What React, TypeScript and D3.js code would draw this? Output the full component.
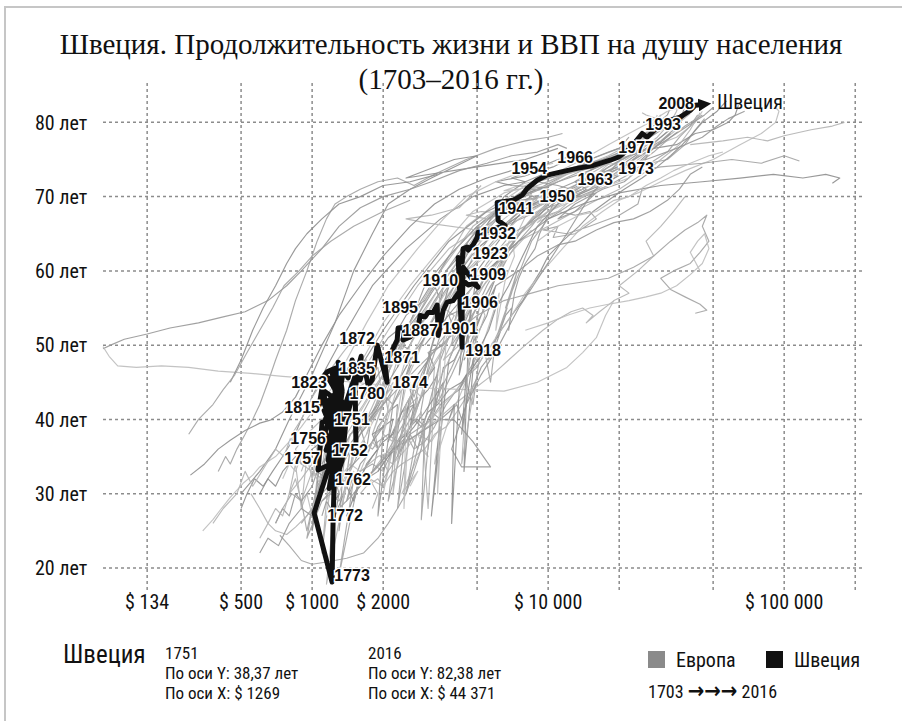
import React from "react";
import * as d3 from "d3";

type Pt = [number, number]; // [ВВП на душу, продолжительность жизни]

// --- Европа: траектории стран (серые) ---
const norway: Pt[] = [[1300,38],[1350,42],[1250,36],[1400,43],[1450,45],[1500,44],[1600,47],[1700,48],[1750,46],[1850,49],[2000,50],[2100,51],[2300,52],[2500,54],[2700,55],[3000,56],[3300,58],[3500,56],[3700,60],[4200,62],[4600,64],[5100,66],[5000,64],[6500,70],[8000,72],[9500,73],[11500,73.5],[14000,74],[17000,75],[22000,76],[28000,76.5],[35000,77],[42000,78.5],[50000,79],[58000,80],[62000,81],[64000,82.3]];
const denmark: Pt[] = [[1800,33],[1900,36],[1850,38],[2000,39],[2100,41],[2050,43],[2200,42],[2400,44],[2600,45],[2700,43],[2900,46],[3100,48],[3400,50],[3800,52],[4300,54],[4600,56],[5200,58],[5500,60],[6000,61],[6800,62],[7500,64],[8500,66],[9500,68],[11000,70.5],[14000,72],[18000,72.5],[22000,73.5],[27000,74.5],[32000,75],[38000,77],[42000,79],[46000,80.5]];
const finland: Pt[] = [[800,30],[850,34],[900,28],[950,35],[1000,32],[1050,36],[1100,38],[1000,26],[1150,37],[1200,40],[1150,33],[1250,42],[1100,22],[1300,40],[1400,42],[1500,44],[1700,45],[1900,47],[2000,42],[1800,38],[2300,48],[2600,50],[2900,53],[3200,55],[3500,57],[3300,52],[4000,58],[4500,60],[5000,63],[6500,66],[8000,68],[10500,69.5],[14000,71],[18000,73],[22000,74.5],[26000,76],[30000,78],[36000,80],[40000,81.2]];
const britain: Pt[] = [[2200,36],[2400,38],[2300,35],[2600,39],[2800,40],[3000,39],[3200,41],[3500,40],[3800,41],[4100,42],[4300,40],[4600,43],[4900,45],[5200,47],[5500,48],[5800,49],[6000,50],[6300,52],[6100,51],[6600,54],[7000,55],[6800,52],[7200,57],[7500,59],[8000,61],[8800,63],[9200,65],[10500,69],[11500,70],[13000,70.5],[15000,71.5],[18000,72.5],[21000,74],[25000,76],[30000,77.5],[34000,79],[38000,81]];
const netherlands: Pt[] = [[2600,31],[2800,33],[2400,30],[2900,36],[3100,35],[2800,38],[3200,37],[3500,39],[3300,34],[3800,40],[4200,43],[4600,46],[5000,48],[5400,51],[5800,54],[6200,57],[6000,52],[6600,59],[7200,62],[7000,65],[6200,60],[8200,68],[10000,72],[12500,73.5],[15000,73.8],[19000,74.5],[24000,76],[29000,77],[35000,78],[42000,80],[45000,81.5]];
const france: Pt[] = [[1500,29],[1600,32],[1400,27],[1700,34],[1900,36],[1800,38],[2000,39],[2200,40],[2100,37],[2400,41],[2700,42],[2600,39],[2900,43],[3100,44],[3400,46],[3300,41],[3600,47],[4000,48],[4300,50],[4200,46],[4600,52],[4400,33],[5000,53],[5600,56],[6000,58],[5500,54],[4400,48],[6500,62],[8000,66],[9500,68],[11500,70],[14000,71],[17000,73],[21000,74.5],[26000,76.5],[30000,78],[34000,79.5],[37000,81],[38000,82.3]];
const germany: Pt[] = [[1300,33],[1400,35],[1500,36],[1450,33],[1650,37],[1800,36],[1900,37],[2100,38],[2300,37],[2500,38],[2700,36],[3000,37],[3300,39],[3700,42],[4100,44],[4500,46],[4900,48],[5200,50],[4800,42],[4500,45],[5100,55],[5700,58],[6300,60],[6800,62],[5500,57],[3900,50],[4500,63],[6500,66],[9000,68],[11000,69],[13500,70],[16000,71],[19000,72.5],[23000,74],[28000,76],[33000,78],[38000,79.5],[45000,81]];
const italy: Pt[] = [[1800,28],[1900,30],[1750,32],[2000,31],[2100,33],[1950,35],[2200,34],[2300,36],[2200,38],[2400,40],[2600,42],[2800,43],[2700,40],[3000,45],[3300,47],[3100,36],[3500,49],[3700,52],[4000,54],[3600,55],[3200,52],[4500,60],[6000,64],[7500,67],[9500,69],[12000,70.5],[15000,72],[19000,74],[24000,76],[29000,78],[33000,80],[35000,81.5],[36000,82.8]];
const spain: Pt[] = [[1100,27],[1150,29],[1200,28],[1300,30],[1250,32],[1400,31],[1500,33],[1400,29],[1600,34],[1700,35],[1800,37],[1900,39],[2100,41],[2300,42],[2200,34],[2500,46],[2700,49],[2400,50],[2300,47],[2600,53],[3000,58],[3800,62],[5000,66],[6500,69],[9000,71],[12000,73],[15000,75],[18000,76],[22000,77],[27000,79],[32000,81],[34000,83]];
const portugal: Pt[] = [[1000,32],[1050,34],[1150,33],[1200,35],[1300,34],[1250,37],[1400,36],[1450,38],[1600,39],[1700,41],[1800,40],[2000,43],[2300,45],[2600,48],[2900,51],[3300,54],[3800,57],[4500,60],[5500,62],[7000,64],[9000,67],[11000,69],[13000,71],[16000,73],[19000,75],[22000,76.5],[25000,78],[28000,80],[29000,81]];
const switzerland: Pt[] = [[2100,35],[2300,37],[2500,38],[2700,40],[2900,39],[3100,41],[3400,42],[3800,44],[4300,45],[4800,47],[5300,49],[5800,50],[6300,52],[7000,54],[7800,56],[8500,58],[9300,60],[10000,62],[11500,64],[13500,66],[15500,68],[18000,69.5],[21000,71],[25000,72.5],[29000,74],[33000,75.5],[37000,77],[41000,78.5],[45000,80],[52000,81.5],[57000,82.9]];
const belgium: Pt[] = [[1900,33],[2100,35],[2300,37],[2200,34],[2600,38],[2900,39],[3200,40],[3500,42],[3800,43],[4200,44],[4600,46],[5000,47],[5400,49],[5700,45],[6000,51],[6400,53],[6700,55],[5600,48],[7000,57],[7400,60],[6600,55],[8500,64],[10000,67],[12500,69],[15000,70.5],[18000,71.5],[22000,73],[27000,74.5],[32000,76],[36000,78],[40000,79.5],[43000,81]];
const austria: Pt[] = [[1600,30],[1700,31],[1900,32],[2000,31],[2200,33],[2400,34],[2700,35],[3000,36],[3300,38],[3700,39],[4100,41],[4500,43],[4900,45],[4300,34],[4600,48],[5000,51],[5400,54],[5100,56],[4200,50],[3600,48],[5500,60],[7500,64],[10000,66],[13000,68],[16000,69.5],[20000,71],[25000,73],[30000,75],[36000,77],[40000,79],[44000,81.3]];
const ireland: Pt[] = [[1300,35],[1400,37],[1350,33],[1300,25],[1450,36],[1600,38],[1800,40],[2100,43],[2400,46],[2700,49],[3000,51],[3300,54],[3600,57],[4000,59],[4500,62],[5000,65],[6000,67],[7500,69],[9000,70],[11000,71],[13000,72],[16000,73],[20000,74],[26000,75],[35000,76.5],[45000,78],[52000,79.5],[58000,80.5],[68000,81.5]];
const poland: Pt[] = [[900,28],[950,30],[1000,27],[1100,31],[1200,33],[1150,29],[1300,32],[1450,34],[1600,33],[1800,37],[2000,40],[2200,42],[2400,44],[2000,30],[2600,47],[2900,50],[2500,45],[3500,56],[4200,60],[5200,64],[6500,67],[7800,69],[9000,70],[10000,70.5],[9500,71],[8000,70.8],[10000,71.5],[12000,73],[15000,74],[19000,75.5],[24000,77.5]];
const hungary: Pt[] = [[1200,28],[1300,30],[1250,27],[1400,31],[1500,29],[1650,33],[1800,35],[2000,37],[2200,38],[2400,41],[2600,43],[2300,36],[2800,46],[3100,48],[3300,51],[2900,45],[3800,58],[5000,63],[6500,66],[8000,68],[10000,69.5],[11500,69.8],[12500,69.5],[11000,69.2],[12500,70.5],[15000,72],[18000,74],[22000,75.5],[25000,76]];
const russia: Pt[] = [[900,26],[1000,28],[950,24],[1100,29],[1200,30],[1300,29],[1400,31],[1500,32],[1300,19],[1600,33],[1800,34],[2000,33],[2200,36],[2600,40],[3000,44],[2500,30],[3500,48],[4200,55],[5500,61],[7000,65],[9000,67],[11000,68],[13000,67.5],[15000,68],[16000,67],[13000,65],[10500,64.5],[11000,66],[9500,65.5],[12000,65],[15000,66],[20000,67.5],[24000,69],[25000,71]];
const ukraine: Pt[] = [[800,30],[850,32],[900,29],[1000,33],[1100,32],[1200,35],[1300,34],[1150,17.8],[1500,36],[1700,40],[2000,45],[2600,52],[3500,60],[4500,66],[6000,69],[7500,70],[8500,70.2],[9000,69.5],[7500,68.5],[5500,67],[4500,67.5],[5200,68],[6500,67.8],[8000,68.5],[8500,70.5],[8000,71.5]];
const romania: Pt[] = [[700,26],[750,28],[800,27],[850,30],[900,29],[1000,31],[1050,33],[1150,32],[1250,34],[1350,36],[1450,38],[1600,39],[1700,36],[1800,41],[2000,44],[2300,50],[2900,56],[3800,62],[5000,66],[6500,68.5],[8000,69.5],[9000,69.8],[7500,69.5],[7000,69.2],[8500,70.5],[11000,72],[15000,73.5],[21000,75.5]];
const bulgaria: Pt[] = [[750,32],[800,34],[850,33],[900,35],[1000,37],[1050,36],[1150,39],[1250,41],[1350,43],[1300,38],[1500,46],[1700,49],[2000,53],[2600,58],[3500,63],[4800,68],[6500,70.5],[8000,71.2],[9000,71.5],[7500,71],[6500,70.8],[8000,71.8],[11000,72.8],[15000,73.8],[18000,75]];
const serbia: Pt[] = [[600,30],[650,32],[700,31],[750,33],[850,35],[900,34],[1000,36],[1100,37],[1000,25],[1200,39],[1400,43],[1600,47],[2000,52],[2700,58],[3800,64],[5500,68],[7500,70],[9000,71],[10000,71.2],[7000,71.5],[6000,72],[8000,72.8],[10500,74],[13000,75.5]];
const albania: Pt[] = [[400,33],[430,35],[450,34],[480,36],[520,38],[560,40],[600,42],[650,45],[700,48],[780,52],[850,56],[950,60],[1050,64],[1150,67],[1250,69],[1400,70],[1600,71],[1900,72],[2300,72.5],[2700,71.5],[3300,73],[4500,75],[6000,76.5],[8000,77.5],[10000,78],[11500,78.5]];
const greece: Pt[] = [[900,33],[950,35],[1000,34],[1100,36],[1150,38],[1250,37],[1350,39],[1500,40],[1650,42],[1800,44],[2000,46],[2200,48],[1700,38],[2000,45],[2600,53],[3500,60],[4800,66],[6500,69],[9000,71.5],[12000,73],[15000,74.5],[18000,75.5],[22000,77],[27000,78.5],[30000,79.5],[32000,80],[26000,81],[25000,81.3]];
const iceland: Pt[] = [[1100,34],[1200,36],[1050,30],[1250,38],[1150,32],[1350,39],[1500,41],[1650,43],[1900,46],[2200,49],[2500,52],[2800,54],[3200,57],[3700,60],[4300,63],[5200,66],[6500,69],[8000,71],[10000,73],[13000,74],[17000,75],[22000,76.5],[27000,78],[32000,79.5],[37000,80.5],[42000,82.5]];
const luxembourg: Pt[] = [[2200,34],[2500,36],[2800,38],[3200,40],[3600,42],[4100,44],[4600,46],[5200,48],[6000,51],[7000,54],[8000,57],[9500,60],[11500,63],[14000,66],[17000,68],[20000,69.5],[24000,70.5],[30000,72],[38000,73.5],[50000,75],[65000,77],[80000,78.5],[92000,80],[95000,81.5],[92000,82]];
const macedonia: Pt[] = [[500,28],[530,30],[570,32],[620,31],[680,33],[750,35],[820,37],[900,40],[1000,43],[1150,47],[1400,52],[1800,58],[2500,63],[3500,67],[4800,70],[6500,71.5],[8000,72],[7000,72.5],[8500,73.5],[11000,75],[13000,75.5]];
const belarus: Pt[] = [[700,26],[750,28],[820,30],[900,29],[950,25],[1050,31],[1200,34],[1400,37],[1650,41],[2000,46],[2600,52],[3500,58],[4800,64],[6500,69],[8500,71],[10000,70.8],[9000,69],[7500,68],[6500,68.5],[8000,68.8],[11000,69.5],[15000,71],[17000,72.5],[18000,73.5]];
const moldova: Pt[] = [[600,24],[650,26],[700,28],[750,27],[800,30],[900,32],[1000,34],[1100,37],[1300,41],[1600,46],[2100,52],[2800,58],[3800,63],[5000,65.5],[6000,66],[5000,65.5],[3000,66.5],[2500,67],[3200,67.5],[4200,68.5],[5200,71.5]];
const estonia: Pt[] = [[1200,32],[1300,34],[1400,36],[1550,38],[1700,40],[1900,42],[2100,45],[2400,48],[2800,52],[3300,56],[4000,60],[5000,64],[6500,68],[8500,70],[11000,70.5],[14000,70],[16000,70.5],[13000,68],[11000,67],[13000,69],[17000,71],[21000,72],[25000,74],[28000,77.5]];
const latvia: Pt[] = [[1300,30],[1400,33],[1350,29],[1500,35],[1700,38],[1900,41],[2200,45],[2000,38],[2600,50],[3200,55],[4000,60],[5200,65],[7000,69],[9500,70],[12000,70.5],[13000,70],[11000,68],[9000,66.5],[10000,68],[14000,70],[18000,71.5],[22000,72.5],[24000,74.5]];
const czechia: Pt[] = [[1500,30],[1700,32],[1900,33],[2100,35],[2400,37],[2700,39],[3000,41],[3300,43],[3600,45],[3200,27],[3800,48],[4300,52],[4700,55],[4500,50],[5000,60],[6500,65],[8000,68.5],[10000,70],[12000,70.2],[13000,70],[14500,71],[13000,72],[15000,73.5],[20000,75.5],[26000,78],[29000,79]];
const slovakia: Pt[] = [[1300,28],[1500,30],[1700,32],[1950,34],[2200,37],[2500,40],[2300,28],[2800,44],[3200,49],[3000,45],[4000,57],[5500,63],[7000,67],[9000,70],[10000,70.5],[11000,70.8],[9500,71],[11000,72],[15000,74],[22000,75.5],[26000,77]];
const slovenia: Pt[] = [[1600,31],[1800,33],[2000,35],[2300,37],[2600,39],[2900,41],[3100,28],[3300,44],[3800,48],[4500,54],[5800,60],[7500,65],[10000,68],[13000,70],[16000,71.5],[18000,72.5],[15000,73],[18000,74.5],[24000,77],[28000,79.5],[30000,81]];
const croatia: Pt[] = [[1100,29],[1250,31],[1400,33],[1600,35],[1800,37],[2000,39],[1900,27],[2200,42],[2600,47],[3200,53],[4200,59],[5500,64],[7500,68],[10000,70],[12500,71],[11000,71.5],[9000,72],[11500,73],[15000,75],[20000,76.5],[22000,78]];
const malta: Pt[] = [[1200,35],[1400,38],[1600,41],[1900,45],[2300,49],[2800,53],[3500,58],[4500,63],[5500,67],[6500,69.5],[8000,71.5],[10500,73],[14000,75],[18000,77],[22000,78.5],[27000,80],[32000,81.5],[36000,82]];
const bosnia: Pt[] = [[500,30],[600,33],[700,36],[800,40],[1000,46],[1250,53],[1500,60],[1800,65],[2100,69],[2600,71],[3200,72.5],[4000,74],[5000,75.5],[4000,75],[2500,72.5],[5000,74],[8000,75],[11000,76.5]];
const kazakhstan: Pt[] = [[1500,38],[2000,42],[2800,47],[3800,51],[5000,54],[6500,56],[8500,57],[11000,58],[14000,58.5],[18000,59],[23000,60.5],[28000,62],[33000,64],[38000,65.5],[43000,66.5],[47000,67.5],[45000,66],[48000,64],[44000,62.5],[40000,61],[34000,60],[30000,59],[33000,57.5],[38000,56.5],[44000,55.5],[47000,54.7],[42000,54.3]];
const turkey: Pt[] = [[1200,30],[1400,32],[1600,33],[1900,35],[2300,36],[2800,38],[3400,40],[4000,42],[4800,44],[5800,46],[6800,48],[8000,50],[9500,52],[11000,53.5],[12500,54.5],[14000,55],[15500,54],[14500,53],[16500,54.5],[19000,56],[22000,57],[20000,58],[24000,60],[28000,62],[26000,64],[30000,66],[34000,68],[38000,70]];
const montenegro: Pt[] = [[130,49.5],[140,50],[160,50.8],[200,51.5],[250,52.3],[330,53],[420,53.8],[520,54.5],[650,56],[780,58],[900,60],[1100,63],[1300,66],[1600,68.5],[2000,70],[2600,71],[3200,72],[4200,73.5],[5500,74.5],[7000,75.5],[9000,76],[11000,77],[12000,76.5]];
const kosovo: Pt[] = [[130,49.8],[138,48.5],[150,47.2],[180,47],[230,47.2],[300,47],[400,46.5],[550,46.2],[750,45.8],[1000,45.5],[1500,45],[2200,44.5],[3200,44.2],[4500,44],[6500,43.8],[9000,45],[12000,47],[14000,49],[16000,51],[17500,54],[19000,56]];
const liechtenstein: Pt[] = [[3000,50],[4000,55],[5500,60],[7500,64],[10000,67],[14000,69],[20000,70.5],[30000,71.5],[45000,72],[65000,72.5],[90000,73],[120000,72.5],[150000,73],[172000,72.5],[160000,71.8]];
const monaco: Pt[] = [[20000,73],[30000,74],[45000,74.5],[60000,75],[80000,74.5],[100000,75.5],[116000,74.8]];
const andorra: Pt[] = [[40000,77],[55000,77.5],[70000,78],[85000,77.5],[100000,78.2],[130000,79],[160000,79.5],[180000,80]];
const cyprus: Pt[] = [[1500,30],[1800,33],[2200,36],[2800,38],[3500,40],[4000,39.9],[4800,37],[5700,33.6],[4300,33.6],[3900,36],[4500,42],[5200,46],[6200,50],[7500,55],[9500,60],[12000,65],[15000,70],[19000,74],[23000,77],[27000,79],[30000,80.5]];
const lithuania: Pt[] = [[344,25],[380,26.5],[408,27.8],[450,29.5],[510,31.4],[560,32.5],[600,33.6],[700,35],[800,37],[900,39],[1000,41],[1200,44],[1400,48],[1700,53],[2100,58],[2800,63],[3600,67],[4500,70],[6000,72],[8000,73.5],[10500,74.5]];
const georgia: Pt[] = [[305,32.5],[350,34],[400,36],[450,37.2],[520,38.5],[600,39.5],[665,39.9],[750,41],[850,43],[950,46],[1100,50],[1300,54],[1600,58],[2000,62],[2600,66],[3300,69],[4200,71],[5500,72.5],[7000,73.5]];
const armenia: Pt[] = [[730,24.4],[800,23],[900,21],[1000,20.5],[1150,20.8],[1400,21.3],[1650,22],[1900,24],[2100,26],[2300,28],[2500,30],[2700,33],[2900,36],[3000,39],[3200,41],[3500,43],[3900,46],[4300,49],[4800,52]];
const azerbaijan: Pt[] = [[550,30],[600,28],[650,26],[700,25],[780,24.5],[850,25.5],[950,27],[1050,29],[1100,31],[1000,33],[900,34],[850,36],[950,38],[1100,40],[1300,42]];
const sanMarino: Pt[] = [[2500,40],[2700,42],[2600,44],[3000,45],[3300,47],[3100,49],[3600,50],[4000,52],[3800,54],[4400,55],[4900,57],[5400,59],[6000,61],[6800,63],[7600,65],[8500,67],[9800,69],[11500,70.5],[13500,71.5],[16000,72.5],[19000,73.5],[23000,75],[28000,76.5],[33000,78],[39000,79.5],[46000,81],[50000,82]];
const scotland: Pt[] = [[2400,40],[2500,42],[2450,28],[2600,43],[2800,45],[3000,44],[3200,47],[3500,49],[3400,30],[3700,51],[4000,53],[4400,56],[5000,59],[6000,62],[7500,65],[9000,68],[11000,70],[14000,71],[18000,72.5],[23000,74.5],[29000,77],[35000,79]];
const wales: Pt[] = [[3800,40],[4000,42],[3900,26],[4200,44],[4500,46],[4300,38],[4800,48],[5200,50],[5600,52],[6000,55],[6800,58],[7800,62],[9000,66],[11000,69],[14000,70.5],[18000,72],[23000,74],[28000,76.5],[33000,78.5]];
const faroe: Pt[] = [[2000,32],[2200,34],[2100,29],[2400,36],[2600,38],[2800,36],[3000,39],[2900,26.5],[3200,41],[3500,44],[3900,47],[4300,50],[4800,54],[5500,58],[6500,62],[8000,66],[10000,69],[13000,71.5],[17000,73.5],[22000,75.5]];
const gibraltar: Pt[] = [[1700,35],[1800,37],[1900,36],[2000,38],[2200,37],[2300,40],[2200,30],[2500,42],[2700,44],[2900,43],[3100,46],[3400,48],[3800,51],[4300,54],[5000,57],[6000,60],[7200,63],[8500,65.5]];
const crimea: Pt[] = [[6000,58],[7500,60],[9000,62],[11000,63.5],[13000,64],[16000,65.5],[19000,66.5],[23000,67],[27000,68],[32000,69.5],[36000,71],[40000,73],[45000,74]];
const jersey: Pt[] = [[9000,64],[11000,66],[13500,67.5],[16000,68],[19000,69.5],[22000,70],[26000,71.5],[30000,72.5],[34000,73.5],[40000,74.5],[48000,75.5],[55000,76]];
const transnistria: Pt[] = [[450,45],[500,48],[560,52],[620,55],[700,58],[780,61],[850,63],[950,65],[1100,67],[1300,69],[1600,70],[2000,71.5],[2600,72],[3400,73]];
const abkhazia: Pt[] = [[300,38],[330,40],[380,42],[420,44],[470,46],[530,49],[600,52],[680,55],[760,58],[880,60],[1000,62],[1200,64],[1500,66],[2000,68],[2600,69.5]];
const lapland: Pt[] = [[380,26],[420,28],[480,30],[520,33],[560,31],[640,34],[700,36],[760,35],[820,38],[900,40],[1000,43],[1150,46],[1350,49],[1600,52]];
const karelia: Pt[] = [[600,22],[650,24],[720,23],[800,26],[900,28],[1000,27],[1100,30],[1250,32],[1400,35],[1600,38],[1850,41],[2100,44]];
const dagestan: Pt[] = [[8000,52],[10000,53],[12000,54],[15000,55],[18000,55.5],[22000,56],[26000,56.5],[30000,57],[35000,58],[40000,59.5],[45000,61],[48000,63],[46000,65],[43000,64],[40000,62.5],[44000,60]];

const europe: Pt[][] = [
  norway, denmark, finland, britain, netherlands, france, germany, italy, spain, portugal,
  switzerland, belgium, austria, ireland, poland, hungary, russia, ukraine, romania, bulgaria,
  serbia, albania, greece, iceland, luxembourg, macedonia, belarus, moldova, estonia, latvia,
  czechia, slovakia, slovenia, croatia, malta, bosnia, kazakhstan, turkey, montenegro, kosovo,
  liechtenstein, monaco, andorra, cyprus, lithuania, georgia, armenia, azerbaijan,
  sanMarino, scotland, wales, faroe, gibraltar, crimea, jersey, transnistria, abkhazia, lapland, karelia, dagestan,
];

// --- Швеция 1703–2016 ---
const sweden: Pt[] = [[1227,36.5],[1146,35.85],[1327,42.58],[1215,46.35],[1366,36.12],[1180,40.56],[1301,33.43],[1113,43.93],[1276,42.58],[1192,37.2],[1353,46.35],[1169,34.51],[1314,31.82],[1239,42.85],[1135,39.89],
  [1289,39.9],[1192,34.9],[1327,38.4],[1158,42.3],[1301,44.0],[1135,38.3],[1264,34.2],[1366,41.9],[1169,45.6],[1340,43.7],[1204,33.2],[1289,36.5],[1124,41.2],[1314,38.6],
  [1269,38.37],[1314,34.8],[1252,37.2],[1353,40.6],[1102,39.6],[1081,36.3],[1060,33.2],[1239,34.2],[1180,30.7],[1252,32.1],[1366,37.2],[1204,39.9],[1289,35.2],[1158,32.9],[1020,27.4],[1215,18.1],[1227,26.4],[1239,31.1],[1340,34.5],[1393,39.9],[1521,44.6],[1536,35.2],[1521,43.3],[1551,46.6],[1380,41.9],[1264,36.5],[1192,39.9],[1102,42.9],[1071,41.9],[1124,45.9],[1158,46.4],[1252,46.9],[1340,43.9],[1289,47.7],[1421,45.6],[1477,48.0],[1536,46.0],[1613,48.5],[1597,45.3],[1662,47.2],[1727,44.6],[1796,45.3],[1886,50.0],[2079,45.0],[2038,47.3],[2183,49.3],[2293,50.7],[2312,52.3],[2478,52.4],[2430,50.7],[2602,51.1],[2813,52.4],[2870,54.0],[3012,53.8],[3100,54.4],[3256,54.4],[3387,55.4],[3420,51.3],[3591,54.7],[3733,55.8],[3958,56.0],[4155,57.0],[4321,56.0],[4363,58.7],[4581,58.1],[4810,58.3],[5051,57.8],[4363,60.5],[4321,56.0],[4321,49.7],[4155,61.8],[4321,61.2],[4363,63.0],[4538,63.2],[4581,62.8],[4810,63.5],[5002,64.5],[5051,65.2],[5252,65.2],[6573,66.1],[6140,66.8],[6080,69.2],[7107,69.5],[7759,70.2],[8147,71.1],[8981,72.2],[9903,72.9],[11240,73.3],[13270,73.8],[15510,74.2],[18310,74.9],[19800,75.3],[20587,75.7],[22260,76.5],[25020,78.5],[26273,78.0],[28960,79.3],[32880,80.3],[36250,80.7],[39970,81.6],[41980,82.3],[44371,82.38]];

const yearLabels: [string, number, number][] = [
  ["2008",34870,82.56],["1993",30710,79.73],["1977",23600,76.64],["1973",23600,73.81],["1966",13010,75.29],
  ["1963",15820,72.33],["1954",8310,73.81],["1950",10920,70.04],["1941",7320,68.43],["1932",6140,65.06],
  ["1923",5680,62.37],["1910",3490,58.73],["1909",5570,59.54],["1895",2360,55.1],["1906",5150,55.77],
  ["1887",2870,52.0],["1901",4240,52.27],["1918",5300,49.31],["1872",1551,50.93],["1871",2407,48.37],
  ["1835",1551,46.89],["1874",2602,45.0],["1823",971,45.0],["1780",1711,43.53],["1815",907,41.64],
  ["1751",1477,40.03],["1756",962,37.47],["1752",1449,35.85],["1757",907,34.78],["1762",1492,31.95],
  ["1772",1380,27.11],["1773",1477,19.03],
];

const yTicks = [20, 30, 40, 50, 60, 70, 80];
const gridX = [200, 500, 1000, 2000, 5000, 10000, 20000, 50000, 100000, 200000];
const xTickValues = [200, 500, 1000, 2000, 10000, 100000];
const xTickLabels = ["$ 134", "$ 500", "$ 1000", "$ 2000", "$ 10 000", "$ 100 000"];

const infoStart = ["1751", "По оси Y: 38,37 лет", "По оси X: $ 1269"];
const infoEnd = ["2016", "По оси Y: 82,38 лет", "По оси X: $ 44 371"];
const legendItems = [["Европа", "#8a8a8a"], ["Швеция", "#111111"]];
const greys = ["#8e8e8e", "#a2a2a2", "#b2b2b2", "#979797", "#bcbcbc"];

const COND = "'Roboto Condensed','Liberation Sans Narrow','DejaVu Sans Condensed','Arial Narrow',Roboto,sans-serif";

export default function App() {
  const W = 902, H = 721;
  const x = d3.scaleLog().domain([130, 220000]).range([103, 865]);
  const y = d3.scaleLinear().domain([17.7, 85.3]).range([585, 83]);
  const line = d3.line<Pt>().x(d => x(d[0])).y(d => y(d[1]));
  const last = sweden[sweden.length - 1];

  return (
    <svg width={W} height={H} style={{ position: "absolute", left: 0, top: 0, background: "#fff" }}>
      <defs>
        <marker id="arr" viewBox="0 0 10 10" refX="2" refY="5" markerWidth="2.6" markerHeight="2.6" orient="auto" markerUnits="strokeWidth">
          <path d="M0,0 L10,5 L0,10 z" fill="#111" />
        </marker>
      </defs>
      <rect width={W} height={H} fill="#fff" />
      <path d={`M5,${H} V7 H${W}`} fill="none" stroke="#c6c6c6" strokeWidth={2} />

      <text x={451} y={54} textAnchor="middle" fontFamily="'Liberation Serif',serif" fontSize={29} fill="#111">
        Швеция. Продолжительность жизни и ВВП на душу населения
      </text>
      <text x={451} y={89} textAnchor="middle" fontFamily="'Liberation Serif',serif" fontSize={29} fill="#111">
        (1703–2016 гг.)
      </text>

      {/* сетка */}
      <g stroke="#8c8c8c" strokeWidth={1.5} strokeDasharray="3,3">
        {yTicks.map(t => <line key={"h" + t} x1={103} x2={865} y1={y(t)} y2={y(t)} />)}
        {gridX.map(t => <line key={"v" + t} x1={x(t)} x2={x(t)} y1={83} y2={590} />)}
      </g>
      <g fontFamily={COND} fontSize={20} fill="#111" style={{ fontStretch: "condensed" }}>
        {yTicks.map(t => <text key={t} x={35} y={y(t)} dy="0.36em">{t} лет</text>)}
        {xTickValues.map((v, i) => <text key={v} x={x(v)} y={609} textAnchor="middle">{xTickLabels[i]}</text>)}
      </g>

      {/* Европа */}
      <g fill="none" strokeWidth={1.15} strokeLinejoin="round">
        {europe.map((s, i) => <path key={i} d={line(s) || ""} stroke={greys[i % greys.length]} opacity={0.9} />)}
      </g>

      {/* Швеция */}
      <path d={line(sweden) || ""} fill="none" stroke="#111" strokeWidth={5} strokeLinejoin="round" markerEnd="url(#arr)" />
      <g fontFamily="'Liberation Sans',Arial,sans-serif" fontWeight="bold" fontSize={16} textAnchor="middle"
         fill="#111" stroke="#fff" strokeWidth={3} style={{ paintOrder: "stroke" }}>
        {yearLabels.map(([yr, g, le]) => <text key={yr} x={x(g)} y={y(le)} dy="0.36em">{yr}</text>)}
      </g>
      <text x={x(last[0]) + 16} y={y(last[1])} dy="0.2em" fontFamily={COND} fontSize={20} fill="#111" style={{ fontStretch: "condensed" }}>Швеция</text>

      {/* подвал */}
      <g fontFamily={COND} fill="#111" style={{ fontStretch: "condensed" }}>
        <text x={63} y={663} fontSize={25}>Швеция</text>
        {infoStart.map((s, i) => <text key={"s" + i} x={165} y={659 + i * 20} fontSize={17}>{s}</text>)}
        {infoEnd.map((s, i) => <text key={"e" + i} x={368} y={659 + i * 20} fontSize={17}>{s}</text>)}
        {legendItems.map(([lab, c], i) => (
          <g key={lab} transform={`translate(${648 + i * 118},651)`}>
            <rect width={17} height={17} fill={c} />
            <text x={28} y={16} fontSize={20}>{lab}</text>
          </g>
        ))}
        <text x={648} y={698} fontSize={18}>1703 <tspan fontSize={22} fontWeight="bold">→→→</tspan> 2016</text>
      </g>
    </svg>
  );
}
